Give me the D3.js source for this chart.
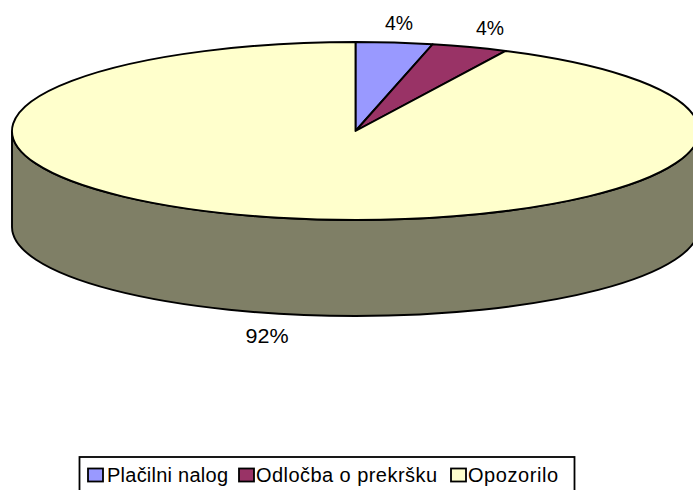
<!DOCTYPE html>
<html><head><meta charset="utf-8">
<script src="https://cdn.jsdelivr.net/npm/d3@7"></script>
<style>html,body{margin:0;padding:0;background:#fff;overflow:hidden}svg{display:block}text{font-family:"Liberation Sans",Arial,sans-serif;fill:#000}</style>
</head><body><script>
const categories = ["Plačilni nalog","Odločba o prekršku","Opozorilo"];
const sliceValues = [3.6,3.6,92.8];
const percentLabels = ["4%","4%","92%"];
const colors = ["#9999FF","#993366","#FFFFCC"];
const wallColor = "#7F7F66";
(function(){
const W=693,H=490,cx=355.5,cy=131,rx=343.5,ry=89,depth=96;
const svg=d3.select("body").append("svg").attr("width",W).attr("height",H);
const pie=d3.pie().sort(null).value(d=>d)(sliceValues);
const arc=d3.arc().innerRadius(0).outerRadius(rx);
const sw=1.9;
const wallPath=`M${cx-rx},${cy}L${cx-rx},${cy+depth}A${rx},${ry} 0 0 0 ${cx+rx},${cy+depth}L${cx+rx},${cy}A${rx},${ry} 0 0 1 ${cx-rx},${cy}Z`;
svg.append("path").attr("d",wallPath).attr("fill",wallColor).attr("stroke","#000").attr("stroke-width",sw);
const topFace=svg.append("g").attr("transform",`translate(${cx},${cy}) scale(1,${ry/rx})`);
topFace.selectAll("path").data(pie).join("path").attr("d",arc)
  .attr("fill",(d,i)=>colors[i]).attr("stroke","#000").attr("stroke-width",sw)
  .attr("vector-effect","non-scaling-stroke").attr("stroke-linejoin","round");
const labelPos=[[399,30],[490,35],[267,343]];
const labelW=[28,28,43];
svg.selectAll("text.pct").data(percentLabels).join("text").attr("class","pct")
  .attr("x",(d,i)=>labelPos[i][0]).attr("y",(d,i)=>labelPos[i][1])
  .attr("text-anchor","middle").attr("font-size",20)
  .attr("textLength",(d,i)=>labelW[i]).attr("lengthAdjust","spacingAndGlyphs").text(d=>d);
const lg=svg.append("g");
lg.append("rect").attr("x",79.5).attr("y",457).attr("width",495).attr("height",45).attr("fill","#fff").attr("stroke","#000").attr("stroke-width",1.8);
const swatchX=[88,239,451],textX=[107,256,468],textW=[121,181,90];
categories.forEach((c,i)=>{
 lg.append("rect").attr("x",swatchX[i]).attr("y",468.5).attr("width",15).attr("height",13).attr("fill",colors[i]).attr("stroke","#000").attr("stroke-width",1.8);
 lg.append("text").attr("x",textX[i]).attr("y",482).attr("font-size",20).attr("textLength",textW[i]).attr("lengthAdjust","spacing").text(c);
});
})();
</script></body></html>
